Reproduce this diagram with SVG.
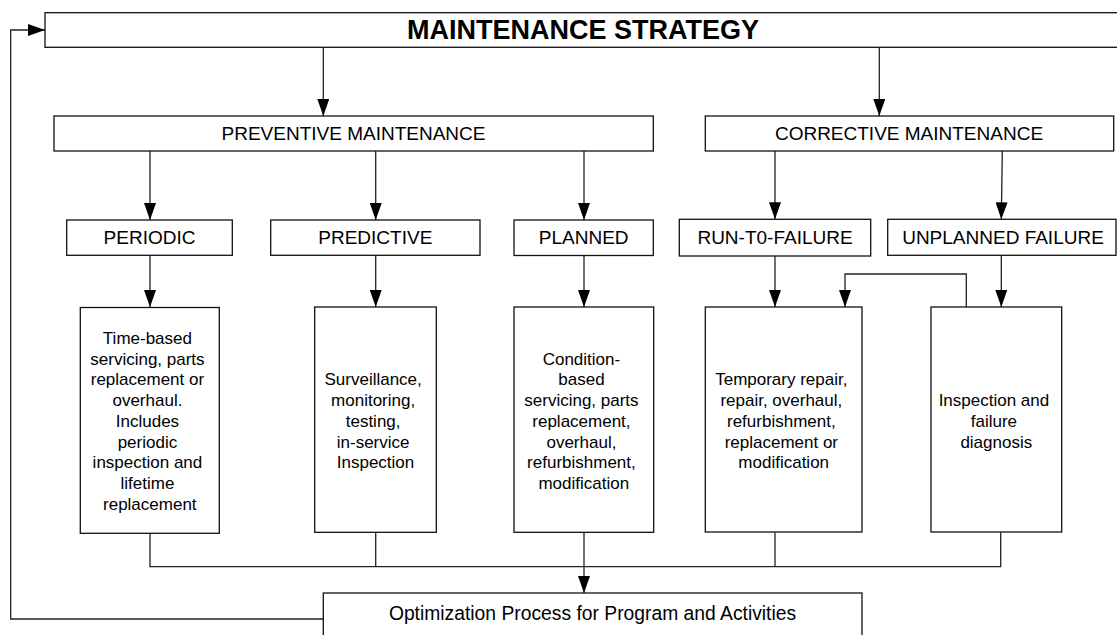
<svg xmlns="http://www.w3.org/2000/svg" width="1117" height="635" viewBox="0 0 1117 635">
<style>
.box{fill:#fff;stroke:#111;stroke-width:1.3}
.ln{fill:none;stroke:#222;stroke-width:1.3}
.t{font-family:"Liberation Sans",Arial,sans-serif;fill:#000;text-anchor:middle}
.lbl{font-size:19px}
.d{font-size:17px}
.opt{font-size:19.3px}
.title{font-size:27px;font-weight:bold}
</style>
<defs>
<marker id="ah" markerUnits="userSpaceOnUse" markerWidth="17" markerHeight="12" refX="17" refY="6" orient="auto">
<path d="M0,0 L17,6 L0,12 z" fill="#000"/>
</marker>
</defs>
<rect width="1117" height="635" fill="#fff"/>
<g id="connectors">
<line class="ln" x1="323.3" y1="47.3" x2="323.3" y2="116" marker-end="url(#ah)"/>
<line class="ln" x1="879.3" y1="47.3" x2="879.3" y2="116" marker-end="url(#ah)"/>
<line class="ln" x1="150" y1="151" x2="150" y2="220" marker-end="url(#ah)"/>
<line class="ln" x1="375.7" y1="151" x2="375.7" y2="220" marker-end="url(#ah)"/>
<line class="ln" x1="584" y1="151" x2="584" y2="220" marker-end="url(#ah)"/>
<line class="ln" x1="775" y1="151" x2="775" y2="219.3" marker-end="url(#ah)"/>
<line class="ln" x1="1002.3" y1="151" x2="1001.3" y2="219.3" marker-end="url(#ah)"/>
<line class="ln" x1="150" y1="255.3" x2="150" y2="307" marker-end="url(#ah)"/>
<line class="ln" x1="375.7" y1="255.3" x2="375.7" y2="307" marker-end="url(#ah)"/>
<line class="ln" x1="584" y1="255.5" x2="584" y2="307" marker-end="url(#ah)"/>
<line class="ln" x1="775" y1="256" x2="775" y2="307" marker-end="url(#ah)"/>
<line class="ln" x1="1001.3" y1="255.3" x2="1001.3" y2="307" marker-end="url(#ah)"/>
<path class="ln" d="M966.3,307 V274 H845 V307" marker-end="url(#ah)"/>
<path class="ln" d="M150,533 V566.7 H1000.7 V532.5"/>
<line class="ln" x1="375.7" y1="532.5" x2="375.7" y2="566.7"/>
<line class="ln" x1="775" y1="532.5" x2="775" y2="566.7"/>
<line class="ln" x1="584" y1="532.5" x2="584" y2="593" marker-end="url(#ah)"/>
<path class="ln" d="M323.3,619 H10.7 V30 H45" marker-end="url(#ah)"/>
</g>
<g id="strategy">
<rect class="box" x="45" y="12.7" width="1080" height="34.6"/>
<text class="t title" x="583" y="38.5">MAINTENANCE STRATEGY</text>
</g>
<g id="preventive">
<rect class="box" x="54" y="116" width="599.3" height="35"/>
<text class="t lbl" x="353.5" y="140">PREVENTIVE MAINTENANCE</text>
</g>
<g id="corrective">
<rect class="box" x="705.3" y="116" width="408.4" height="35"/>
<text class="t lbl" x="909" y="140">CORRECTIVE MAINTENANCE</text>
</g>
<g id="periodic">
<rect class="box" x="66.7" y="220" width="165.6" height="35.3"/>
<text class="t lbl" x="149.5" y="244">PERIODIC</text>
</g>
<g id="predictive">
<rect class="box" x="270.7" y="220" width="209.3" height="35.3"/>
<text class="t lbl" x="375.3" y="244">PREDICTIVE</text>
</g>
<g id="planned">
<rect class="box" x="514" y="220" width="139.3" height="35.5"/>
<text class="t lbl" x="583.7" y="244">PLANNED</text>
</g>
<g id="runtofailure">
<rect class="box" x="679.3" y="219.3" width="191.4" height="36.7"/>
<text class="t lbl" x="775" y="244">RUN-T0-FAILURE</text>
</g>
<g id="unplanned">
<rect class="box" x="887.7" y="219.3" width="228.3" height="36"/>
<text class="t lbl" x="1003" y="244">UNPLANNED FAILURE</text>
</g>
<g id="periodic-desc">
<rect class="box" x="80.3" y="307.5" width="139" height="225.8"/>
<text class="t d">
<tspan x="149.8" y="344">Time-based</tspan>
<tspan x="149.8" y="364.7">servicing, parts</tspan>
<tspan x="149.8" y="385.4">replacement or</tspan>
<tspan x="149.8" y="406.1">overhaul.</tspan>
<tspan x="149.8" y="426.8">Includes</tspan>
<tspan x="149.8" y="447.5">periodic</tspan>
<tspan x="149.8" y="468.2">inspection and</tspan>
<tspan x="149.8" y="488.9">lifetime</tspan>
<tspan x="149.8" y="509.6">replacement</tspan>
</text>
</g>
<g id="predictive-desc">
<rect class="box" x="314.7" y="307" width="121.6" height="225.3"/>
<text class="t d">
<tspan x="375.5" y="385.4">Surveillance,</tspan>
<tspan x="375.5" y="406.1">monitoring,</tspan>
<tspan x="375.5" y="426.8">testing,</tspan>
<tspan x="375.5" y="447.5">in-service</tspan>
<tspan x="375.5" y="468.2">Inspection</tspan>
</text>
</g>
<g id="planned-desc">
<rect class="box" x="514" y="307" width="139.7" height="225.3"/>
<text class="t d">
<tspan x="583.8" y="364.7">Condition-</tspan>
<tspan x="583.8" y="385.4">based</tspan>
<tspan x="583.8" y="406.1">servicing, parts</tspan>
<tspan x="583.8" y="426.8">replacement,</tspan>
<tspan x="583.8" y="447.5">overhaul,</tspan>
<tspan x="583.8" y="468.2">refurbishment,</tspan>
<tspan x="583.8" y="488.9">modification</tspan>
</text>
</g>
<g id="corrective-desc">
<rect class="box" x="705.3" y="307" width="156.7" height="225"/>
<text class="t d">
<tspan x="783.7" y="385.4">Temporary repair,</tspan>
<tspan x="783.7" y="406.1">repair, overhaul,</tspan>
<tspan x="783.7" y="426.8">refurbishment,</tspan>
<tspan x="783.7" y="447.5">replacement or</tspan>
<tspan x="783.7" y="468.2">modification</tspan>
</text>
</g>
<g id="inspection-desc">
<rect class="box" x="931" y="307" width="130.7" height="225"/>
<text class="t d">
<tspan x="996.3" y="406.1">Inspection and</tspan>
<tspan x="996.3" y="426.8">failure</tspan>
<tspan x="996.3" y="447.5">diagnosis</tspan>
</text>
</g>
<g id="optimization">
<rect class="box" x="323.3" y="593" width="538.7" height="60"/>
<text class="t opt" x="592.5" y="620">Optimization Process for Program and Activities</text>
</g>
</svg>
